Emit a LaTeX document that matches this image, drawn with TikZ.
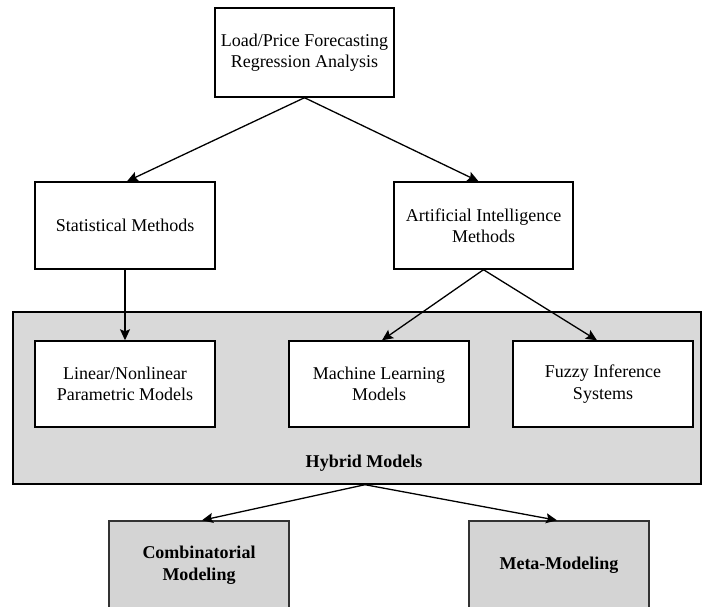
\documentclass[tikz,border=0pt]{standalone}
\usepackage{fontspec}
\setmainfont{Liberation Serif}
\usetikzlibrary{arrows.meta}
\definecolor{hybridgray}{HTML}{D9D9D9}
\definecolor{boxgray}{HTML}{D4D4D4}
\begin{document}
\begin{tikzpicture}[x=1pt,y=-1pt,
  txt/.style={font=\fontsize{18}{21.5}\selectfont, align=center},
  wbox/.style={txt, draw=black, line width=1.4pt, fill=white, inner sep=0pt},
  gbox/.style={txt, draw=black!80, line width=1.4pt, fill=boxgray, inner sep=0pt, font=\fontsize{18}{21.5}\selectfont\bfseries},
  arr/.style={line width=1.3pt, -{Stealth[length=11pt,width=10pt,inset=2pt]}}
]
\useasboundingbox (0,0) rectangle (705,606);
\clip (0,0) rectangle (705,606);
\node[draw=black, line width=1.4pt, fill=hybridgray, minimum width=688pt, minimum height=172pt, inner sep=0pt] (hyb) at (357,398) {};
\node[txt, font=\fontsize{18}{21.5}\selectfont\bfseries] (hyblab) at (364,463) {Hybrid Models};

\node[wbox, minimum width=179pt, minimum height=89pt] (top) at (304.5,52.5) {Load/Price Forecasting\\Regression Analysis};
\node[wbox, minimum width=180pt, minimum height=87pt] (stat) at (125,225.5) {Statistical Methods};
\node[wbox, minimum width=179pt, minimum height=87pt] (ai) at (483.5,225.5) {Artificial Intelligence\\Methods};
\node[wbox, minimum width=180pt, minimum height=86pt] (lin) at (125,384) {Linear/Nonlinear\\Parametric Models};
\node[wbox, minimum width=180pt, minimum height=86pt] (ml) at (379,384) {Machine Learning\\Models};
\node[wbox, minimum width=180pt, minimum height=86pt] (fuz) at (603,384) {Fuzzy Inference\\Systems};
\node[gbox, minimum width=180pt, minimum height=88pt] (comb) at (199,565) {Combinatorial\\Modeling};
\node[gbox, minimum width=180pt, minimum height=88pt] (meta) at (559,565) {Meta-Modeling};

\draw[arr] (top.south) -- ([xshift=2pt]stat.north);
\draw[arr] (top.south) -- ([xshift=-5pt]ai.north);
\draw[arr] (stat.south) -- (lin.north);
\draw[arr] (ai.south) -- ([xshift=3pt]ml.north);
\draw[arr] (ai.south) -- ([xshift=-6pt]fuz.north);
\draw[arr] ([xshift=8pt]hyb.south) -- ([xshift=3pt]comb.north);
\draw[arr] ([xshift=8pt]hyb.south) -- ([xshift=-2pt]meta.north);
\end{tikzpicture}
\end{document}
